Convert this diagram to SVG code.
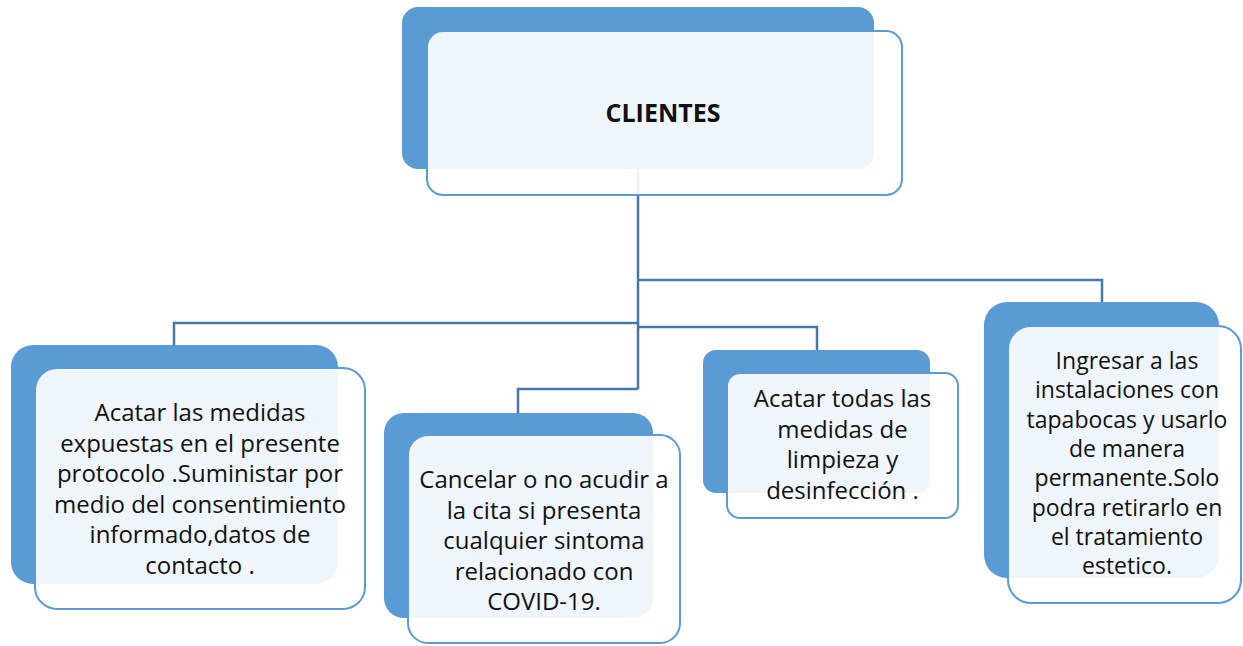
<svg xmlns="http://www.w3.org/2000/svg" width="1243" height="646" viewBox="0 0 1243 646">
  <style>
    .back { fill: #5B9BD5; }
    .front { fill: #FFFFFF; fill-opacity: 0.9; stroke: #5B9BD5; stroke-width: 2; }
    .conn { fill: none; stroke: #4577AE; stroke-width: 2.5; }
    .t { font-family: "Open Sans", "Liberation Sans", sans-serif; font-size: 24px; fill: #111; text-anchor: middle; }
    .t4 { font-size: 23px; }
    .title { font-family: "Open Sans", "Liberation Sans", sans-serif; font-size: 25px; font-weight: bold; fill: #111; text-anchor: middle; }
  </style>
  <rect width="1243" height="646" fill="#FFFFFF"/>
  <g id="connectors">
    <path class="conn" d="M638 169 V389"/>
    <path class="conn" d="M638 280 H1102 V302"/>
    <path class="conn" d="M638 323 H174 V345"/>
    <path class="conn" d="M638 327 H817 V350"/>
    <path class="conn" d="M638 389 H518 V413"/>
  </g>
  <g id="clientes">
    <rect class="back" x="402" y="7" width="472" height="162" rx="16"/>
    <rect class="front" x="427" y="31" width="475" height="164" rx="16"/>
    <text class="title" x="663" y="122">CLIENTES</text>
  </g>
  <g id="node-acatar-medidas">
    <rect class="back" x="11" y="345" width="327" height="239" rx="22"/>
    <rect class="front" x="35" y="368" width="330" height="241" rx="22"/>
    <text class="t" x="200" y="421">Acatar las medidas</text>
    <text class="t" x="200" y="451.5">expuestas en el presente</text>
    <text class="t" x="200" y="482">protocolo .Suministar por</text>
    <text class="t" x="200" y="512.5">medio del consentimiento</text>
    <text class="t" x="200" y="543">informado,datos de</text>
    <text class="t" x="200" y="573.5">contacto .</text>
  </g>
  <g id="node-cancelar">
    <rect class="back" x="384" y="413" width="269" height="205" rx="20"/>
    <rect class="front" x="408" y="435" width="272" height="208" rx="20"/>
    <text class="t" x="544" y="488">Cancelar o no acudir a</text>
    <text class="t" x="544" y="518.5">la cita si presenta</text>
    <text class="t" x="544" y="549">cualquier sintoma</text>
    <text class="t" x="544" y="579.5">relacionado con</text>
    <text class="t" x="544" y="610">COVID-19.</text>
  </g>
  <g id="node-limpieza">
    <rect class="back" x="703" y="350" width="227" height="143" rx="13"/>
    <rect class="front" x="727" y="373" width="231" height="145" rx="13"/>
    <text class="t" x="842.5" y="407">Acatar todas las</text>
    <text class="t" x="842.5" y="437.7">medidas de</text>
    <text class="t" x="842.5" y="468.4">limpieza y</text>
    <text class="t" x="842.5" y="499">desinfección .</text>
  </g>
  <g id="node-tapabocas">
    <rect class="back" x="984" y="302" width="235" height="276" rx="23"/>
    <rect class="front" x="1008" y="326" width="233" height="277" rx="23"/>
    <text class="t t4" x="1127" y="369">Ingresar a las</text>
    <text class="t t4" x="1127" y="398.3">instalaciones con</text>
    <text class="t t4" x="1127" y="427.6">tapabocas y usarlo</text>
    <text class="t t4" x="1127" y="456.9">de manera</text>
    <text class="t t4" x="1127" y="486.2">permanente.Solo</text>
    <text class="t t4" x="1127" y="515.5">podra retirarlo en</text>
    <text class="t t4" x="1127" y="544.8">el tratamiento</text>
    <text class="t t4" x="1127" y="574">estetico.</text>
  </g>
</svg>
